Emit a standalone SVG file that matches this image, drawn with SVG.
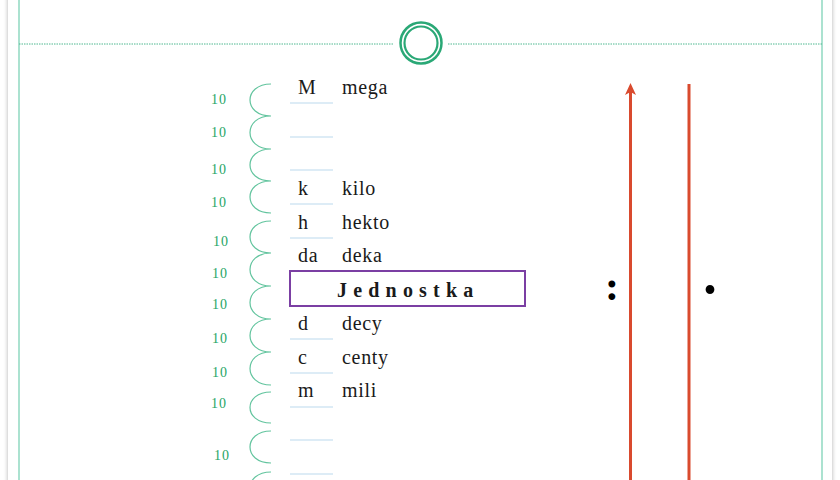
<svg xmlns="http://www.w3.org/2000/svg" width="840" height="480" viewBox="0 0 840 480">
  <style>
    .sym { font-family: "Liberation Serif", "Times New Roman", serif; font-size: 20px; fill: #1a1a1a; letter-spacing: 0.7px; }
    .ten { font-family: "Liberation Serif", "Times New Roman", serif; font-size: 14px; fill: #27a566; letter-spacing: 1px; font-variant-numeric: oldstyle-nums; }
    .arc { fill: none; stroke: #62c49e; stroke-width: 1.2; }
    .ul { stroke: #bcd9ee; stroke-width: 1.2; }
    .red { stroke: #d94a2e; stroke-width: 3; fill: none; }
    .op { font-family: "Liberation Serif", "Times New Roman", serif; font-weight: bold; fill: #000; }
  </style>
  <defs>
    <filter id="sh" x="-5%" y="-5%" width="110%" height="110%">
      <feDropShadow dx="0" dy="0" stdDeviation="2.2" flood-color="#9a9a9a" flood-opacity="0.8"/>
    </filter>
    <marker id="ah" markerWidth="12" markerHeight="11" refX="9" refY="5.5" orient="auto" markerUnits="userSpaceOnUse" viewBox="0 0 12 11">
      <path d="M12,5.5 L0,0 L3,5.5 L0,11 Z" fill="#d94a2e"/>
    </marker>
  </defs>
  <rect x="0" y="0" width="840" height="480" fill="#ffffff"/>
  <g id="page">
    <rect x="8" y="-20" width="824" height="520" fill="#ffffff" filter="url(#sh)"/>
    <line x1="19" y1="0" x2="19" y2="480" stroke="#8fd8c0" stroke-width="1.5"/>
    <line x1="822" y1="0" x2="822" y2="480" stroke="#8fd8c0" stroke-width="1.5"/>
    <line x1="19" y1="44" x2="394" y2="44" stroke="#4fb890" stroke-width="1" stroke-dasharray="1.5 1"/>
    <line x1="448" y1="44" x2="822" y2="44" stroke="#4fb890" stroke-width="1" stroke-dasharray="1.5 1"/>
    <circle cx="421" cy="43" r="20.5" fill="#ffffff" stroke="#2aa876" stroke-width="2.5"/>
    <circle cx="421" cy="43" r="16.5" fill="none" stroke="#2aa876" stroke-width="2.2"/>
  </g>
  <g id="underlines">
    <line class="ul" x1="290" y1="103" x2="333" y2="103"/>
    <line class="ul" x1="290" y1="137" x2="333" y2="137"/>
    <line class="ul" x1="290" y1="170" x2="333" y2="170"/>
    <line class="ul" x1="290" y1="204" x2="333" y2="204"/>
    <line class="ul" x1="290" y1="238" x2="333" y2="238"/>
    <line class="ul" x1="290" y1="339" x2="333" y2="339"/>
    <line class="ul" x1="290" y1="373" x2="333" y2="373"/>
    <line class="ul" x1="290" y1="407" x2="333" y2="407"/>
    <line class="ul" x1="290" y1="440" x2="333" y2="440"/>
    <line class="ul" x1="290" y1="474" x2="333" y2="474"/>
  </g>
  <g id="row-mega"><text class="sym" x="298" y="94">M</text><text class="sym" x="342" y="94">mega</text></g>
  <g id="row-kilo"><text class="sym" x="298" y="195">k</text><text class="sym" x="342" y="195">kilo</text></g>
  <g id="row-hekto"><text class="sym" x="298" y="228.5">h</text><text class="sym" x="342" y="228.5">hekto</text></g>
  <g id="row-deka"><text class="sym" x="298" y="262">da</text><text class="sym" x="342" y="262">deka</text></g>
  <g id="row-jednostka">
    <rect x="290" y="271" width="235" height="35" fill="#ffffff" stroke="#7b3fa3" stroke-width="2"/>
    <text class="sym" x="337" y="297" font-weight="bold" style="letter-spacing:6.2px">Jednostka</text>
  </g>
  <g id="row-decy"><text class="sym" x="298" y="330">d</text><text class="sym" x="342" y="330">decy</text></g>
  <g id="row-centy"><text class="sym" x="298" y="363.5">c</text><text class="sym" x="342" y="363.5">centy</text></g>
  <g id="row-mili"><text class="sym" x="298" y="397">m</text><text class="sym" x="342" y="397">mili</text></g>
  <g id="steps">
    <path class="arc" d="M271,84 C243,84 243,116 271,116 C243,116 243,149 271,149 C243,149 243,181 271,181 C243,181 243,213 271,213"/>
    <path class="arc" d="M271,221 C243,221 243,253 271,253 C243,253 243,286 271,286 C243,286 243,319 271,319 C243,319 243,352 271,352 C243,352 243,385 271,385"/>
    <path class="arc" d="M271,392 C243,392 243,423 271,423"/>
    <path class="arc" d="M271,431 C243,431 243,463 271,463"/>
    <path class="arc" d="M271,472 C243,472 243,504 271,504"/>
    <text class="ten" x="211" y="104">10</text>
    <text class="ten" x="211" y="137">10</text>
    <text class="ten" x="211" y="174">10</text>
    <text class="ten" x="211" y="207">10</text>
    <text class="ten" x="213" y="246">10</text>
    <text class="ten" x="212" y="278">10</text>
    <text class="ten" x="212" y="309">10</text>
    <text class="ten" x="212" y="343">10</text>
    <text class="ten" x="212" y="377">10</text>
    <text class="ten" x="211" y="408">10</text>
    <text class="ten" x="214" y="460">10</text>
  </g>
  <g id="connectors">
    <line class="red" x1="630.5" y1="490" x2="630.5" y2="86" marker-end="url(#ah)"/>
    <line class="red" x1="689" y1="490" x2="689" y2="84"/>
  </g>
  <g id="operators">
    <text class="op" x="612" y="300" font-size="42" text-anchor="middle">:</text>
    <text class="op" x="710" y="308" font-size="54" text-anchor="middle">·</text>
  </g>
</svg>
